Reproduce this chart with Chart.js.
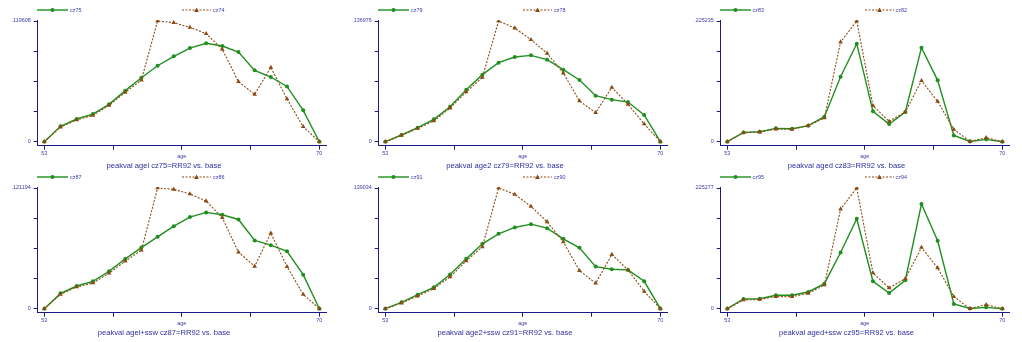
<!DOCTYPE html>
<html>
<head>
<meta charset="utf-8">
<script src="https://cdn.jsdelivr.net/npm/chart.js@4.4.1/dist/chart.umd.min.js"></script>
<style>
  html, body { margin: 0; padding: 0; background: #fff; }
  body { width: 1022px; height: 342px; position: relative; overflow: hidden; font-family: "Liberation Sans", Arial, sans-serif; }
  .panel { position: absolute; width: 340px; height: 171px; }
  .panel canvas { position: absolute; left: 0; top: 0; }
  .leg { position: absolute; top: 6px; height: 8px; font-size: 5.4px; line-height: 8px; color: #3a3aa6; display: flex; align-items: center; white-space: nowrap; }
  .leg svg { display: block; margin-right: 2px; }
  .ttl { position: absolute; top: 160.5px; left: 0; width: 328px; text-align: center; font-size: 7.6px; line-height: 9px; color: #2e2ea0; white-space: nowrap; }
</style>
</head>
<body>
<script>
// edades en el eje x
const ages = [53, 54, 55, 56, 57, 58, 59, 60, 61, 62, 63, 64, 65, 66, 67, 68, 69, 70];
const xTicks = [53, 57.25, 61.5, 65.75, 70];

// fila 1
const cz75 = [0, 0.0152, 0.0225, 0.0274, 0.0370, 0.0506, 0.0634, 0.0753, 0.0846, 0.0928, 0.0975, 0.0948, 0.0889, 0.0707, 0.0641, 0.0548, 0.0311, 0];
const cz74 = [0, 0.0145, 0.0215, 0.0261, 0.0360, 0.0489, 0.0611, 0.119608, 0.1180, 0.1133, 0.1071, 0.0915, 0.0595, 0.0469, 0.0737, 0.0423, 0.0149, 0];
const cz79 = [0, 0.0076, 0.0159, 0.0254, 0.0397, 0.0590, 0.0761, 0.0897, 0.0961, 0.0980, 0.0931, 0.0817, 0.0700, 0.0522, 0.0477, 0.0450, 0.0303, 0];
const cz78 = [0, 0.0072, 0.0151, 0.0235, 0.0382, 0.0564, 0.0730, 0.136976, 0.1290, 0.1158, 0.1003, 0.0779, 0.0462, 0.0329, 0.0617, 0.0424, 0.0201, 0];
const cz83 = [0, 0.0174, 0.0187, 0.0249, 0.0243, 0.0299, 0.0467, 0.1213, 0.1829, 0.0566, 0.0330, 0.0554, 0.1755, 0.1145, 0.0118, 0.0005, 0.0044, 0];
const cz82 = [0, 0.0168, 0.0180, 0.0236, 0.0230, 0.0299, 0.0442, 0.1860, 0.225235, 0.0672, 0.0380, 0.0554, 0.1139, 0.0753, 0.0230, 0.0005, 0.0075, 0];

// fila 2
const cz87 = [0, 0.0154, 0.0228, 0.0275, 0.0376, 0.0500, 0.0614, 0.0722, 0.0829, 0.0920, 0.0967, 0.0943, 0.0896, 0.0685, 0.0638, 0.0577, 0.0342, 0];
const cz86 = [0, 0.0144, 0.0218, 0.0258, 0.0356, 0.0477, 0.0587, 0.121194, 0.1198, 0.1152, 0.1081, 0.0913, 0.0567, 0.0426, 0.0759, 0.0423, 0.0144, 0];
const cz91 = [0, 0.0073, 0.0162, 0.0246, 0.0393, 0.0574, 0.0747, 0.0863, 0.0936, 0.0974, 0.0928, 0.0805, 0.0701, 0.0485, 0.0454, 0.0447, 0.0316, 0];
const cz90 = [0, 0.0065, 0.0146, 0.0231, 0.0366, 0.0551, 0.0713, 0.139034, 0.1317, 0.1179, 0.1001, 0.0770, 0.0439, 0.0293, 0.0624, 0.0447, 0.0200, 0];
const cz95 = [0, 0.0181, 0.0187, 0.0250, 0.0250, 0.0312, 0.0468, 0.1048, 0.1679, 0.0512, 0.0293, 0.0530, 0.1953, 0.1267, 0.0087, 0.0005, 0.0025, 0];
const cz94 = [0, 0.0162, 0.0175, 0.0225, 0.0225, 0.0287, 0.0443, 0.1860, 0.225277, 0.0668, 0.0387, 0.0562, 0.1142, 0.0761, 0.0225, 0, 0.0075, 0];

const titulos = [
    'peakval agel cz75=RR92 vs. base', 'peakval age2 cz79=RR92 vs. base', 'peakval aged cz83=RR92 vs. base',
    'peakval agel+ssw cz87=RR92 vs. base', 'peakval age2+ssw cz91=RR92 vs. base', 'peakval aged+ssw cz95=RR92 vs. base'
];
const nombresVerde = ['cz75', 'cz79', 'cz83', 'cz87', 'cz91', 'cz95'];
const nombresCafe = ['cz74', 'cz78', 'cz82', 'cz86', 'cz90', 'cz94'];
const seriesVerde = [cz75, cz79, cz83, cz87, cz91, cz95];
const seriesCafe = [cz74, cz78, cz82, cz86, cz90, cz94];

const VERDE = '#1f8f1f';
const CAFE = '#8c4a12';
const EJE = '#1a1a80';
const TEXTO = '#3a3aa6';
const FAMILIA = "'Liberation Sans', Arial, sans-serif";

const posX = [0, 341, 682.5];
const posY = [0, 167];

// formato estilo Stata: sin cero inicial
const fmtTop = (v) => v.toFixed(6).replace(/^0/, '');

function simbolo(color, tipo, dash, ancho) {
    const m = ancho / 2;
    const marca = tipo === 'tri'
        ? `<polygon points="${m},1.6 ${m + 2.4},6 ${m - 2.4},6" fill="${color}"/>`
        : `<circle cx="${m}" cy="4" r="2" fill="${color}"/>`;
    return `<svg width="${ancho}" height="8"><line x1="0" y1="4" x2="${ancho}" y2="4" stroke="${color}" stroke-width="${dash ? 1.1 : 1.4}" ${dash ? 'stroke-dasharray="2,1.5"' : ''}/>${marca}</svg>`;
}

function crearPanel(i) {
    const panel = document.createElement('div');
    panel.className = 'panel';
    panel.style.left = posX[i % 3] + 'px';
    panel.style.top = posY[Math.floor(i / 3)] + 'px';
    panel.innerHTML =
        `<canvas width="340" height="171"></canvas>` +
        `<div class="leg" style="left:37px">${simbolo(VERDE, 'circ', false, 31)}<span>${nombresVerde[i]}</span></div>` +
        `<div class="leg" style="left:182px">${simbolo(CAFE, 'tri', true, 29)}<span>${nombresCafe[i]}</span></div>` +
        `<div class="ttl">${titulos[i]}</div>`;
    document.body.appendChild(panel);

    const verde = seriesVerde[i];
    const cafe = seriesCafe[i];
    const top = Math.max(...verde, ...cafe);
    const yTicks = [0, top / 4, top / 2, 3 * top / 4, top];

    const gridEje = { display: true, drawOnChartArea: false, drawTicks: true, tickLength: 4, color: EJE, lineWidth: 1 };

    new Chart(panel.querySelector('canvas'), {
        type: 'line',
        data: {
            datasets: [
                {
                    data: ages.map((a, k) => ({ x: a, y: verde[k] })),
                    borderColor: VERDE, backgroundColor: VERDE, borderWidth: 1.4,
                    pointStyle: 'circle', pointRadius: 2, pointBorderWidth: 0,
                    tension: 0, order: 1
                },
                {
                    data: ages.map((a, k) => ({ x: a, y: cafe[k] })),
                    borderColor: CAFE, backgroundColor: CAFE, borderWidth: 1.1, borderDash: [2, 1.5],
                    pointStyle: 'triangle', pointRadius: 2.7, pointBorderWidth: 0,
                    tension: 0, order: 0
                }
            ]
        },
        options: {
            responsive: false,
            animation: false,
            layout: { padding: { left: 0, right: 14, top: 20, bottom: 0 } },
            plugins: { legend: { display: false }, tooltip: { enabled: false } },
            scales: {
                x: {
                    type: 'linear', min: 52.59, max: 70.41,
                    afterFit: (s) => { s.height = 25.3; },
                    afterBuildTicks: (s) => { s.ticks = xTicks.map(v => ({ value: v })); },
                    grid: gridEje,
                    border: { display: true, color: EJE, width: 1 },
                    ticks: {
                        color: TEXTO, font: { size: 5.4, family: FAMILIA }, padding: 1,
                        maxRotation: 0, autoSkip: false,
                        callback: (v) => (v === 53 || v === 70) ? String(v) : ''
                    },
                    title: { display: true, text: 'age', color: TEXTO, font: { size: 5.4, family: FAMILIA }, padding: { top: 0, bottom: 11.3 } }
                },
                y: {
                    min: -top * 0.0331, max: top * 1.0083,
                    afterFit: (s) => { s.width = 37.7; },
                    afterBuildTicks: (s) => { s.ticks = yTicks.map(v => ({ value: v })); },
                    grid: gridEje,
                    border: { display: true, color: EJE, width: 1 },
                    ticks: {
                        color: TEXTO, font: { size: 5.4, family: FAMILIA }, padding: 3, autoSkip: false,
                        callback: (v, idx) => idx === 0 ? '0' : (idx === 4 ? fmtTop(top) : '')
                    }
                }
            }
        }
    });
}

for (let i = 0; i < 6; i++) crearPanel(i);
</script>
</body>
</html>
